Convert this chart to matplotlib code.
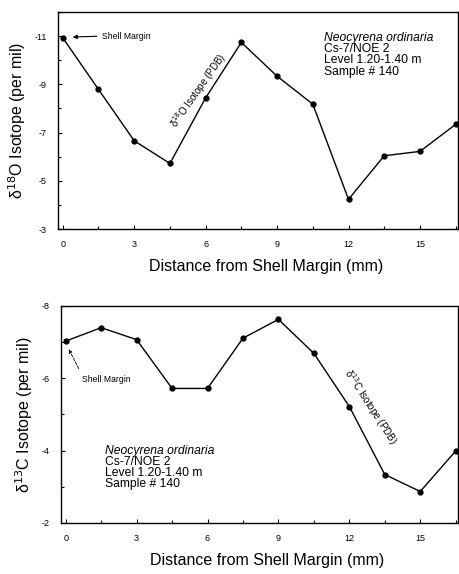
import matplotlib
matplotlib.use("Agg")
import matplotlib.pyplot as plt
from matplotlib.ticker import MultipleLocator
import numpy as np

distance = [0, 1.5, 3, 4.5, 6, 7.5, 9, 10.5, 12, 13.5, 15, 16.5]
d18o = [-10.93, -8.79, -6.66, -5.72, -8.44, -10.74, -9.34, -8.18, -4.23, -6.04, -6.22, -7.34]
d13c = [-7.03, -7.40, -7.07, -5.72, -5.72, -7.11, -7.63, -6.69, -5.22, -3.34, -2.87, -3.99]
info = ["Cs-7/NOE 2", "Level 1.20-1.40 m", "Sample # 140"]
species = "Neocyrena ordinaria"
xticks = [0, 3, 6, 9, 12, 15]

plt.rcParams['font.family'] = ['Liberation Sans', 'DejaVu Sans']
plt.rcParams['axes.unicode_minus'] = False

fig = plt.figure(figsize=(4.59, 5.74), dpi=100)
ax1 = fig.add_axes([0.1264, 0.601, 0.8715, 0.378])
ax2 = fig.add_axes([0.1329, 0.0889, 0.865, 0.378])


def style(ax, ylo, yhi, step, xlab):
    ax.set_xlim(-0.2, 16.6)
    ax.set_ylim(ylo, yhi)
    ax.set_xticks(xticks)
    ax.set_xticklabels([str(t) for t in xticks])
    ax.xaxis.set_minor_locator(MultipleLocator(1.5))
    ax.yaxis.set_minor_locator(MultipleLocator(step / 2))
    ax.tick_params(which="both", direction="in", labelsize=6.5, length=3, width=0.8,
                   top=False, right=False, pad=8)
    ax.tick_params(which="minor", length=2)
    for s in ax.spines.values():
        s.set_linewidth(1.0)
    ax.set_xlabel(xlab, fontsize=11.5, labelpad=7)
    ax.xaxis.label.set_x(0.52)


# top: oxygen
ax1.plot(distance, d18o, color="black", lw=1.0, marker="o", ms=3.5)
ax1.set_yticks([-11, -9, -7, -5, -3])
style(ax1, -3, -12, 2, "Distance from Shell Margin (mm)")
ax1.set_ylabel("δ$^{18}$O Isotope (per mil)", fontsize=11.5, labelpad=5)
ax1.annotate("", xy=(0.3, -10.96), xytext=(1.55, -11.0),
             arrowprops=dict(arrowstyle="-|>", color="black", lw=0.8, mutation_scale=6))
ax1.text(1.65, -11.0, "Shell Margin", fontsize=6.2, va="center")
ax1.text(5.7, -8.75, "δ$^{18}$O Isotope (PDB)", fontsize=7, rotation=55,
         ha="center", va="center")
ax1.text(10.95, -10.94, species, fontsize=8.7, style="italic", va="center")
for i, t in enumerate(info):
    ax1.text(10.95, -10.47 + i * 0.47, t, fontsize=8.7, va="center")

# bottom: carbon
ax2.plot(distance, d13c, color="black", lw=1.0, marker="o", ms=3.5)
ax2.set_yticks([-8, -6, -4, -2])
style(ax2, -2, -8, 2, "Distance from Shell Margin (mm)")
ax2.set_ylabel("δ$^{13}$C Isotope (per mil)", fontsize=11.5, labelpad=5)
ax2.annotate("", xy=(0.08, -6.87), xytext=(0.6, -6.2),
             arrowprops=dict(arrowstyle="-|>", color="black", lw=0.6, ls="--",
                             mutation_scale=5))
ax2.text(0.68, -5.98, "Shell Margin", fontsize=6.2, va="center")
ax2.text(12.9, -5.2, "δ$^{13}$C Isotope (PDB)", fontsize=7, rotation=-57,
         ha="center", va="center")
ax2.text(1.65, -3.99, species, fontsize=8.7, style="italic", va="center")
for i, t in enumerate(info):
    ax2.text(1.65, -3.69 + i * 0.305, t, fontsize=8.7, va="center")

fig.savefig("out.png", dpi=100)
